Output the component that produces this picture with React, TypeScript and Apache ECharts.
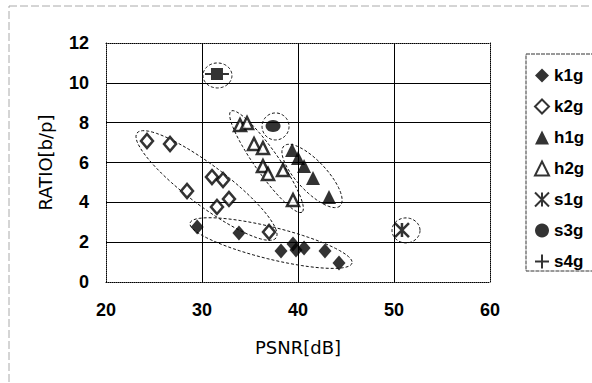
import React, { useEffect, useRef } from "react";
import * as echarts from "echarts";

// ---- data (PSNR [dB], RATIO [b/p]) ----
const k1g: number[][] = [
  [29.5, 2.76], [33.85, 2.46], [38.23, 1.56], [39.48, 1.91], [39.79, 1.61],
  [40.63, 1.71], [42.81, 1.56], [44.27, 0.95],
];
const k2g: number[][] = [
  [24.27, 7.08], [26.67, 6.93], [28.44, 4.57], [31.04, 5.27], [32.19, 5.12],
  [31.56, 3.77], [32.81, 4.17], [36.98, 2.51],
];
const h1g: number[][] = [
  [39.38, 6.63], [40.0, 6.22], [40.63, 5.82], [41.56, 5.22], [43.23, 4.27],
];
const h2g: number[][] = [
  [33.96, 7.88], [34.69, 7.98], [35.42, 6.93], [36.35, 6.73], [36.35, 5.82],
  [36.88, 5.42], [38.44, 5.62], [39.48, 4.12],
];
const s1g: number[][] = [[50.83, 2.61]];
const s3g: number[][] = [[37.4, 7.83]];
const s4g: number[][] = [[31.56, 10.44]];

const seriesNames = ["k1g", "k2g", "h1g", "h2g", "s1g", "s3g", "s4g"];
const xTicks = [20, 30, 40, 50, 60];
const yTicks = [0, 2, 4, 6, 8, 10, 12];

// cluster outlines: major-axis end points in data coordinates [x1, y1, x2, y2]
const clusterAxes: number[][] = [
  [23.23, 7.48, 37.71, 2.21], // k2g
  [28.75, 2.96, 45.63, 0.95], // k1g
  [33.02, 8.58, 40.42, 3.51], // h2g
  [38.54, 6.83, 44.38, 3.82], // h1g
];
// halos around single points: centres in data coordinates
const haloCenters: number[][] = [
  [31.61, 10.37], // s4g
  [37.66, 7.81], // s3g
  [51.25, 2.59], // s1g
];

// styling constants (pixel sizes)
const CLUSTER_MINOR = [20, 16, 12, 15];
const HALO_R = [[14.5, 12.5], [13.5, 13.5], [14, 12.5]];

const FONT = "Liberation Sans";

function ellipsePoints(cx: number, cy: number, rx: number, ry: number, ang: number) {
  const pts: number[][] = [];
  const n = 72;
  const c = Math.cos(ang), s = Math.sin(ang);
  for (let i = 0; i < n; i++) {
    const t = (i / n) * Math.PI * 2;
    const ex = rx * Math.cos(t), ey = ry * Math.sin(t);
    pts.push([cx + ex * c - ey * s, cy + ex * s + ey * c]);
  }
  return pts;
}

const outlineStyle = { fill: "none", stroke: "#111", lineWidth: 1, lineDash: [3, 2] };

export default function App() {
  const ref = useRef<HTMLDivElement>(null);
  useEffect(() => {
    document.body.style.margin = "0";
    const chart = echarts.init(ref.current!, null, { renderer: "svg" });

    const clusterData = clusterAxes.map((a, i) => [(a[0] + a[2]) / 2, (a[1] + a[3]) / 2, i]);
    const haloData = haloCenters.map((c, i) => [c[0], c[1], i]);

    const hollow = { color: "#fff", borderColor: "#000", borderWidth: 2.5 };
    const solid = { color: "#000" };

    const option: any = {
      animation: false,
      backgroundColor: "#fff",
      graphic: [
        {
          type: "rect",
          shape: { x: 9, y: 6, width: 700, height: 500 },
          style: { fill: "none", stroke: "#aaa", lineWidth: 1, lineDash: [8, 3] },
          silent: true,
          z: -10,
        },
      ],
      grid: { left: 106, top: 43, width: 384, height: 239, show: false },
      legend: {
        orient: "vertical",
        left: 526,
        top: 54,
        padding: [13, 30, 1, 8],
        itemGap: 14,
        itemWidth: 14,
        itemHeight: 14,
        borderColor: "#333",
        borderWidth: 1,
        borderType: [4, 1],
        textStyle: { fontFamily: FONT, fontWeight: "bold", fontSize: 17, color: "#000" },
        data: [
          { name: "k1g" },
          { name: "k2g" },
          { name: "h1g" },
          { name: "h2g" },
          { name: "s1g", icon: "path://M0,0L10,10M10,0L0,10M5,0L5,10" },
          { name: "s3g", icon: "circle" },
          { name: "s4g", icon: "path://M0,6h14v2H0zM6,0h2v14H6z" },
        ],
      },
      xAxis: [
        {
          type: "value",
          min: xTicks[0],
          max: xTicks[xTicks.length - 1],
          interval: 10,
          position: "bottom",
          name: "PSNR[dB]",
          nameLocation: "middle",
          nameGap: 56,
          nameTextStyle: { fontFamily: "DejaVu Sans", fontSize: 18, color: "#000" },
          axisLine: { show: true, lineStyle: { color: "#000", type: "dotted", width: 1 } },
          axisTick: { show: false },
          axisLabel: { fontFamily: FONT, fontWeight: "bold", fontSize: 18, color: "#000", margin: 19 },
          splitLine: { show: true, showMinLine: false, showMaxLine: false, lineStyle: { color: "#000", width: 1 } },
        },
        {
          type: "value",
          min: xTicks[0],
          max: xTicks[xTicks.length - 1],
          interval: 10,
          position: "top",
          axisLine: { show: true, onZero: false, lineStyle: { color: "#000", type: "dotted", width: 1 } },
          axisTick: { show: false },
          axisLabel: { show: false },
          splitLine: { show: false },
        },
      ],
      yAxis: [
        {
          type: "value",
          min: yTicks[0],
          max: yTicks[yTicks.length - 1],
          interval: 2,
          position: "left",
          name: "RATIO[b/p]",
          nameLocation: "middle",
          nameGap: 52,
          nameTextStyle: { fontFamily: "DejaVu Sans", fontSize: 18, color: "#000" },
          axisLine: { show: true, lineStyle: { color: "#000", type: "dotted", width: 1 } },
          axisTick: { show: false },
          axisLabel: { fontFamily: FONT, fontWeight: "bold", fontSize: 18, color: "#000", margin: 17 },
          splitLine: { show: true, showMinLine: false, showMaxLine: false, lineStyle: { color: "#000", width: 1 } },
        },
        {
          type: "value",
          min: yTicks[0],
          max: yTicks[yTicks.length - 1],
          interval: 2,
          position: "right",
          axisLine: { show: true, onZero: false, lineStyle: { color: "#000", type: "dotted", width: 1 } },
          axisTick: { show: false },
          axisLabel: { show: false },
          splitLine: { show: false },
        },
      ],
      series: [
        {
          type: "custom",
          name: "clusters",
          coordinateSystem: "cartesian2d",
          xAxisIndex: 0,
          yAxisIndex: 0,
          z: 1,
          silent: true,
          encode: { x: 0, y: 1 },
          data: clusterData,
          renderItem: (params: any, api: any) => {
            const i = api.value(2);
            const a = clusterAxes[i];
            const p1 = api.coord([a[0], a[1]]);
            const p2 = api.coord([a[2], a[3]]);
            const cx = (p1[0] + p2[0]) / 2, cy = (p1[1] + p2[1]) / 2;
            const dx = p2[0] - p1[0], dy = p2[1] - p1[1];
            const rx = Math.sqrt(dx * dx + dy * dy) / 2;
            const ang = Math.atan2(dy, dx);
            return {
              type: "polygon",
              shape: { points: ellipsePoints(cx, cy, rx, CLUSTER_MINOR[i], ang) },
              style: outlineStyle,
            };
          },
        },
        {
          type: "custom",
          name: "halos",
          coordinateSystem: "cartesian2d",
          xAxisIndex: 0,
          yAxisIndex: 0,
          z: 1,
          silent: true,
          encode: { x: 0, y: 1 },
          data: haloData,
          renderItem: (params: any, api: any) => {
            const i = api.value(2);
            const p = api.coord([haloCenters[i][0], haloCenters[i][1]]);
            return {
              type: "polygon",
              shape: { points: ellipsePoints(p[0], p[1], HALO_R[i][0], HALO_R[i][1], 0) },
              style: outlineStyle,
            };
          },
        },
        { type: "scatter", name: seriesNames[0], data: k1g, z: 3, symbol: "diamond", symbolSize: [13, 15], itemStyle: solid },
        { type: "scatter", name: seriesNames[1], data: k2g, z: 3, symbol: "diamond", symbolSize: [12, 14], itemStyle: hollow },
        { type: "scatter", name: seriesNames[2], data: h1g, z: 3, symbol: "triangle", symbolSize: [14, 14], itemStyle: solid },
        { type: "scatter", name: seriesNames[3], data: h2g, z: 3, symbol: "triangle", symbolSize: [12, 12], itemStyle: hollow },
        {
          type: "scatter",
          name: seriesNames[4],
          data: s1g,
          z: 3,
          symbol: "path://M0,0L10,10M10,0L0,10M5,0L5,10",
          symbolSize: 14,
          itemStyle: { color: "#000", borderColor: "#000", borderWidth: 2.5 },
        },
        { type: "scatter", name: seriesNames[5], data: s3g, z: 3, symbol: "circle", symbolSize: [15, 12], itemStyle: solid },
        {
          type: "scatter",
          name: seriesNames[6],
          data: s4g,
          z: 3,
          symbol: "path://M0,5h24v2H0zM6,0h12v12H6z",
          symbolSize: [24, 12],
          itemStyle: solid,
        },
      ],
    };
    chart.setOption(option);
    return () => chart.dispose();
  }, []);
  return (
    <div
      ref={ref}
      style={{ position: "fixed", left: 0, top: 0, width: 592, height: 383, background: "#fff" }}
    />
  );
}
